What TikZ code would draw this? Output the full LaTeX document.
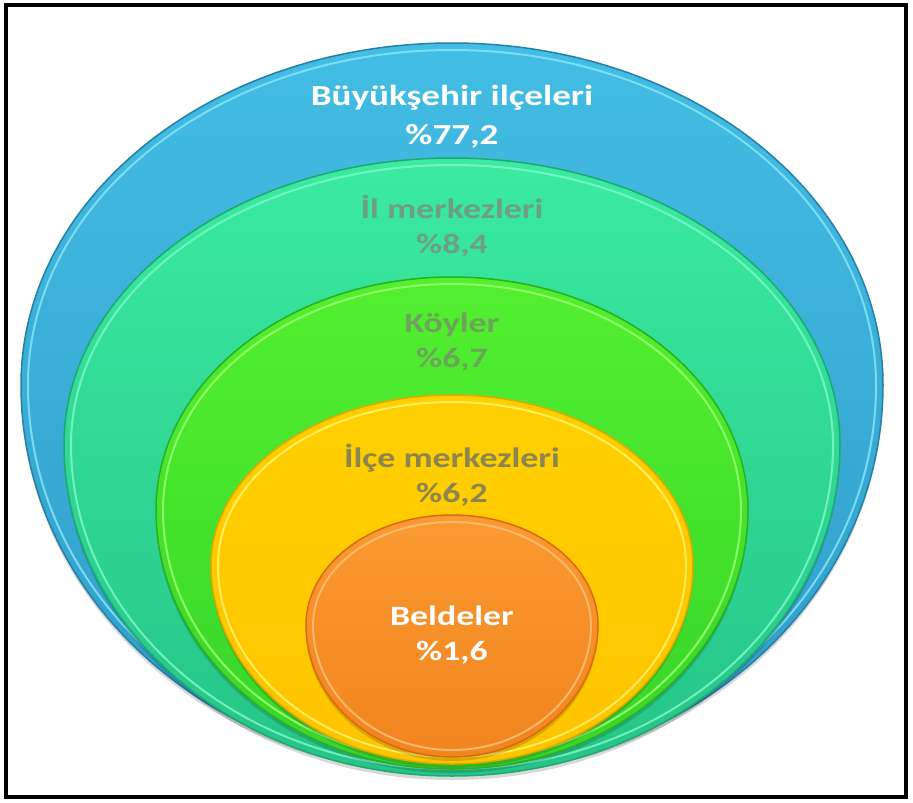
\documentclass[tikz,border=0pt]{standalone}
\usepackage{fontspec}
\setmainfont{Carlito}
\newfontfamily\lblfont[FakeStretch=1.28]{Carlito}
\usepackage{tikz}

\definecolor{topblue}{HTML}{43BDE4}
\definecolor{botblue}{HTML}{2F9DC7}
\definecolor{rimblue}{HTML}{2580A8}
\definecolor{glowblue}{HTML}{86E4F7}
\definecolor{topteal}{HTML}{3AEBA0}
\definecolor{botteal}{HTML}{25C487}
\definecolor{rimteal}{HTML}{1FA872}
\definecolor{glowteal}{HTML}{7DF7C6}
\definecolor{topgreen}{HTML}{52F02F}
\definecolor{botgreen}{HTML}{38D42A}
\definecolor{rimgreen}{HTML}{2DAE22}
\definecolor{glowgreen}{HTML}{9CFF70}
\definecolor{topyellow}{HTML}{FFD000}
\definecolor{botyellow}{HTML}{FFC400}
\definecolor{rimyellow}{HTML}{E0A800}
\definecolor{glowyellow}{HTML}{FFF36A}
\definecolor{toporange}{HTML}{FA9A30}
\definecolor{botorange}{HTML}{F2841E}
\definecolor{rimorange}{HTML}{D86A10}
\definecolor{gloworange}{HTML}{FFC078}
\definecolor{txtteal}{HTML}{6E9E86}
\definecolor{txtgreen}{HTML}{6CA45A}
\definecolor{txtyellow}{HTML}{8C8550}

% egg outline: #1 widest row, #2 half width, #3 upper and #4 lower half height
\newcommand{\eggpath}[4]{({\cx-(#2)},{#1}) arc [start angle=180, end angle=360, x radius={#2}, y radius={#3}]
    arc [start angle=0, end angle=180, x radius={#2}, y radius={#4}] -- cycle}

\tikzset{
    whitelbl/.style={font=\lblfont\bfseries\fontsize{29}{39}\selectfont, text=white, align=center},
    greylbl/.style={font=\lblfont\bfseries\fontsize{28}{35}\selectfont, align=center}
}

\begin{document}
\begin{tikzpicture}[x=1pt, y=-1pt]
    \def \cx {452}
    \def \inset {7} % highlight ring inside each rim
    \useasboundingbox (0,0) rectangle (913,803);
    \fill[white] (0,0) rectangle (913,803);
    \draw[line width=3.5pt] (6,5) rectangle (906,797);
    \foreach \yw/\rx/\ryt/\ryb/\col in {385/431/342/387/blue, 445/388/287/331/teal,
        510/296/233/259/green, 565/241/170/199/yellow, 625/146/110/132/orange}
    {
      \fill[black, opacity=.15] \eggpath{\yw+4}{\rx}{\ryt}{\ryb};
      \shade[top color=top\col, bottom color=bot\col, draw=rim\col, line width=1.5pt]
        \eggpath{\yw}{\rx}{\ryt}{\ryb};
      \draw[glow\col, line width=2pt, opacity=.85]
        \eggpath{\yw}{\rx-\inset}{\ryt-\inset}{\ryb-\inset};
    }
    \node[whitelbl] (buyuksehir) at (\cx,117) {Büyükşehir ilçeleri\\\%77,2};
    \node[greylbl, text=txtteal] (ilmerkez) at (\cx,226) {İl merkezleri\\\%8,4};
    \node[greylbl, text=txtgreen] (koyler) at (\cx,342) {Köyler\\\%6,7};
    \node[greylbl, text=txtyellow] (ilcemerkez) at (\cx,475) {İlçe merkezleri\\\%6,2};
    \node[whitelbl, font=\lblfont\bfseries\fontsize{28}{35}\selectfont] (beldeler) at (\cx,635) {Beldeler\\\%1,6};
\end{tikzpicture}
\end{document}
